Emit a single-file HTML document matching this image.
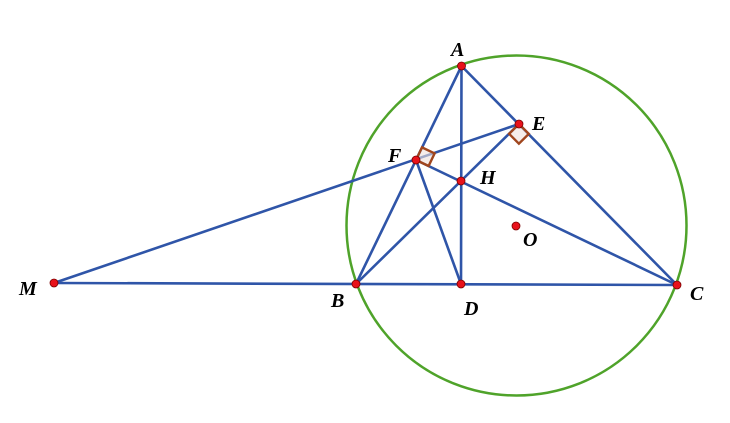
<!DOCTYPE html>
<html><head><style>body{margin:0;background:#fff}svg{display:block}text{font-family:"Liberation Serif",serif;font-style:italic;font-weight:bold;font-size:20px;fill:#000}</style></head>
<body><svg width="730" height="423" viewBox="0 0 730 423">
<circle cx="516.5" cy="225.5" r="170" fill="none" stroke="#4fa32a" stroke-width="2.5"/>
<g stroke="#2f55a8" stroke-width="2.6" fill="none" stroke-linecap="round">
<line x1="54" y1="283" x2="677" y2="285"/>
<line x1="54" y1="283" x2="519" y2="124"/>
<line x1="461.5" y1="66" x2="356" y2="284"/>
<line x1="461.5" y1="66" x2="677" y2="285"/>
<line x1="461.5" y1="66" x2="461" y2="284"/>
<line x1="356" y1="284" x2="519" y2="124"/>
<line x1="416" y1="160" x2="677" y2="285"/>
<line x1="416" y1="160" x2="461" y2="284"/>
</g>
<g stroke="#a0461e" stroke-width="2.4" fill="rgba(240,225,220,0.6)">
<polygon points="519,124 528.8,133.9 518.9,143.7 509.1,133.8"/>
<polygon points="416,160 428.6,166 434.6,153.4 422,147.4"/>
</g>
<g fill="#e8121b" stroke="#7a0000" stroke-width="0.8">
<circle cx="461.5" cy="66" r="4"/><circle cx="519" cy="124" r="4"/><circle cx="416" cy="160" r="4"/>
<circle cx="461" cy="181" r="4"/><circle cx="516" cy="226" r="4"/><circle cx="54" cy="283" r="4"/>
<circle cx="356" cy="284" r="4"/><circle cx="461" cy="284" r="4"/><circle cx="677" cy="285" r="4"/>
</g>
<text x="451" y="56">A</text><text x="532" y="130">E</text><text x="388" y="162">F</text>
<text x="480" y="184">H</text><text x="523" y="246">O</text><text x="19" y="295">M</text>
<text x="331" y="307">B</text><text x="464" y="315">D</text><text x="690" y="300">C</text>
</svg></body></html>
